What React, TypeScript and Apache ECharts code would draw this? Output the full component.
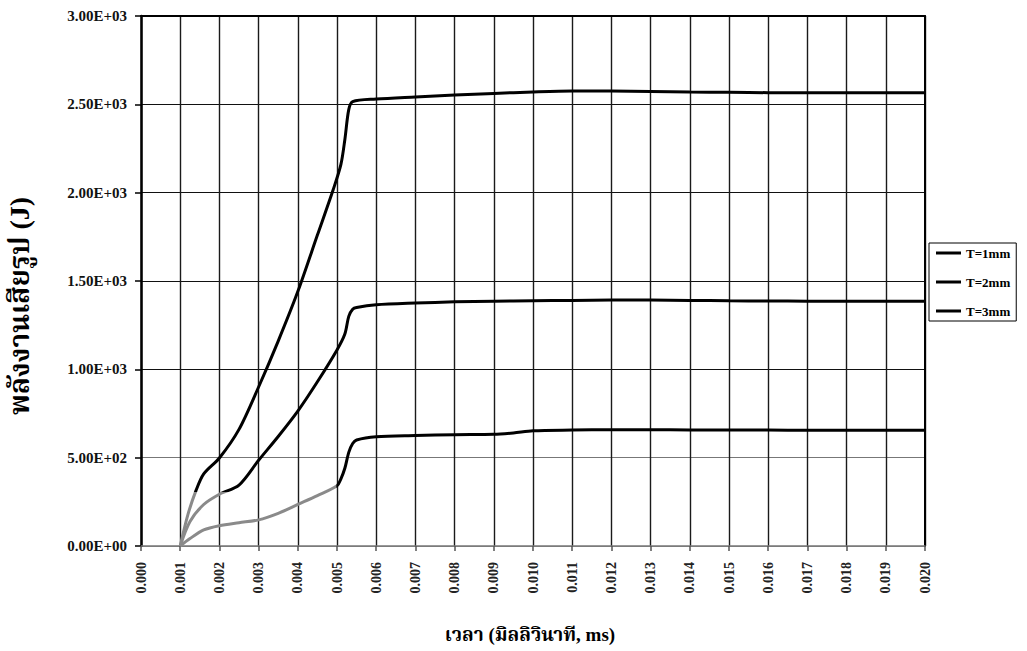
import React, { useEffect, useRef } from "react";
import * as echarts from "echarts";

// Time (ms axis values) and deformation energy (J)
const tT1 = [0.001, 0.00125, 0.0016, 0.002, 0.0025, 0.003, 0.0035, 0.004, 0.0045, 0.005, 0.0051, 0.0052, 0.0053, 0.0054, 0.0055, 0.006, 0.007, 0.008, 0.009, 0.0095, 0.010, 0.011, 0.012, 0.013, 0.014, 0.015, 0.016, 0.017, 0.018, 0.019, 0.020];
const eT1 = [0, 42, 91, 115, 132, 148, 185, 235, 285, 341, 380, 440, 530, 580, 600, 618, 625, 630, 632, 640, 652, 656, 658, 658, 657, 656, 656, 655, 655, 655, 655];

const tT2 = [0.001, 0.00125, 0.0016, 0.002, 0.0025, 0.003, 0.0035, 0.004, 0.0045, 0.005, 0.0052, 0.0053, 0.0054, 0.0055, 0.006, 0.007, 0.008, 0.009, 0.010, 0.011, 0.012, 0.013, 0.014, 0.015, 0.016, 0.017, 0.018, 0.019, 0.020];
const eT2 = [0, 139, 235, 293, 345, 485, 620, 764, 930, 1110, 1200, 1300, 1340, 1350, 1365, 1375, 1382, 1386, 1388, 1390, 1392, 1392, 1390, 1388, 1387, 1386, 1385, 1385, 1385];

const tT3 = [0.001, 0.0012, 0.0014, 0.0016, 0.002, 0.0025, 0.003, 0.0035, 0.004, 0.0045, 0.0049, 0.0051, 0.0052, 0.0053, 0.0054, 0.006, 0.007, 0.008, 0.009, 0.010, 0.011, 0.012, 0.013, 0.014, 0.015, 0.016, 0.017, 0.018, 0.019, 0.020];
const eT3 = [0, 180, 312, 408, 498, 660, 900, 1160, 1440, 1760, 2015, 2160, 2300, 2470, 2515, 2530, 2542, 2553, 2562, 2570, 2575, 2575, 2573, 2570, 2568, 2566, 2565, 2565, 2565, 2565];

const seriesNames = ["T=1mm", "T=2mm", "T=3mm"];
const xTitle = "เวลา (มิลลิวินาที, ms)";
const yTitle = "พลังงานเสียรูป (J)";

const FONT = "'Liberation Serif', 'Times New Roman', 'Noto Serif Thai', 'Noto Sans Thai', 'DejaVu Serif', serif";

function sci(v: number): string {
  const [m, e] = v.toExponential(2).split("e");
  const sign = e[0] === "-" ? "-" : "+";
  const digits = e.replace(/^[+-]/, "").padStart(2, "0");
  return `${m}E${sign}${digits}`;
}

function pairs(t: number[], e: number[]) {
  return t.map((x, i) => [x, e[i]]);
}

// faded (scanned) look at the lower-left start of the curves
const vertFade = {
  type: "linear",
  global: true,
  x: 0,
  y: 0,
  x2: 0,
  y2: 651,
  colorStops: [
    { offset: 0, color: "#000" },
    { offset: 0.755, color: "#000" },
    { offset: 0.756, color: "#8a8a8a" },
    { offset: 1, color: "#8a8a8a" },
  ],
};
const horizFade = {
  type: "linear",
  global: true,
  x: 0,
  y: 0,
  x2: 1027,
  y2: 0,
  colorStops: [
    { offset: 0, color: "#8a8a8a" },
    { offset: 0.327, color: "#8a8a8a" },
    { offset: 0.328, color: "#000" },
    { offset: 1, color: "#000" },
  ],
};

export default function App() {
  const ref = useRef<HTMLDivElement>(null);
  useEffect(() => {
    if (!ref.current) return;
    const chart = echarts.init(ref.current, undefined, { renderer: "svg" });
    const lineCommon = {
      type: "line",
      symbol: "none",
      smooth: 0.3,
      itemStyle: { color: "#000" },
    };
    const hiddenAxisParts = {
      axisTick: { show: false },
      axisLabel: { show: false },
      splitLine: { show: false },
    };
    chart.setOption({
      animation: false,
      backgroundColor: "#fff",
      grid: {
        left: 141,
        right: 102,
        top: 16,
        bottom: 105,
        show: false,
      },
      legend: {
        orient: "vertical",
        left: 929,
        top: 243,
        padding: [3, 6, 3, 7],
        itemGap: 15,
        itemWidth: 25,
        itemHeight: 3,
        borderColor: "#000",
        borderWidth: 1,
        textStyle: { fontFamily: FONT, fontSize: 13, fontWeight: "bold", color: "#000", lineHeight: 14 },
        data: seriesNames.map((n) => ({
          name: n,
          icon: "rect",
          itemStyle: { color: "#000" },
        })),
      },
      xAxis: [
        {
          type: "value",
          min: 0,
          max: 0.02,
          interval: 0.001,
          axisLine: { show: true, lineStyle: { color: "#777", width: 1.5 } },
          axisTick: { show: true, length: 5, lineStyle: { color: "#555", width: 1.5 } },
          axisLabel: {
            rotate: 90,
            margin: 16,
            fontFamily: FONT,
            fontSize: 14,
            fontWeight: "bold",
            color: "#222",
            formatter: (v: number) => v.toFixed(3),
          },
          splitLine: { show: true, lineStyle: { color: "#1a1a1a", width: 1.4 } },
        },
        {
          type: "value",
          position: "top",
          min: 0,
          max: 0.02,
          axisLine: { show: true, onZero: false, lineStyle: { color: "#000", width: 2 } },
          ...hiddenAxisParts,
        },
      ],
      yAxis: [
        {
          type: "value",
          min: 0,
          max: 3000,
          interval: 500,
          axisLine: { show: true, lineStyle: { color: "#000", width: 2.5 } },
          axisTick: { show: true, length: 6, lineStyle: { color: "#000", width: 1.5 } },
          axisLabel: {
            margin: 14,
            fontFamily: FONT,
            fontSize: 15,
            fontWeight: "bold",
            color: "#111",
            formatter: (v: number) => sci(v),
          },
          splitLine: {
            show: true,
            lineStyle: { color: ["#888", "#777", "#111", "#111", "#111", "#111", "#111"], width: 1 },
          },
        },
        {
          type: "value",
          position: "right",
          min: 0,
          max: 3000,
          axisLine: { show: true, onZero: false, lineStyle: { color: "#000", width: 2 } },
          ...hiddenAxisParts,
        },
      ],
      graphic: [
        {
          type: "text",
          x: 19,
          y: 306,
          rotation: Math.PI / 2,
          style: {
            text: yTitle,
            fontFamily: FONT,
            fontSize: 28,
            fontWeight: "bold",
            fill: "#000",
            textAlign: "center",
            textVerticalAlign: "middle",
          },
        },
        {
          type: "text",
          x: 530,
          y: 634,
          style: {
            text: xTitle,
            fontFamily: FONT,
            fontSize: 19,
            fontWeight: "bold",
            fill: "#000",
            textAlign: "center",
            textVerticalAlign: "middle",
          },
        },
      ],
      series: [
        { ...lineCommon, name: seriesNames[0], data: pairs(tT1, eT1), lineStyle: { width: 3, color: horizFade } },
        { ...lineCommon, name: seriesNames[1], data: pairs(tT2, eT2), lineStyle: { width: 3, color: vertFade } },
        { ...lineCommon, name: seriesNames[2], data: pairs(tT3, eT3), lineStyle: { width: 3, color: vertFade } },
      ],
    });
    return () => chart.dispose();
  }, []);
  return (
    <div
      ref={ref}
      style={{ position: "fixed", left: 0, top: 0, width: 1027, height: 651, background: "#fff" }}
    />
  );
}
